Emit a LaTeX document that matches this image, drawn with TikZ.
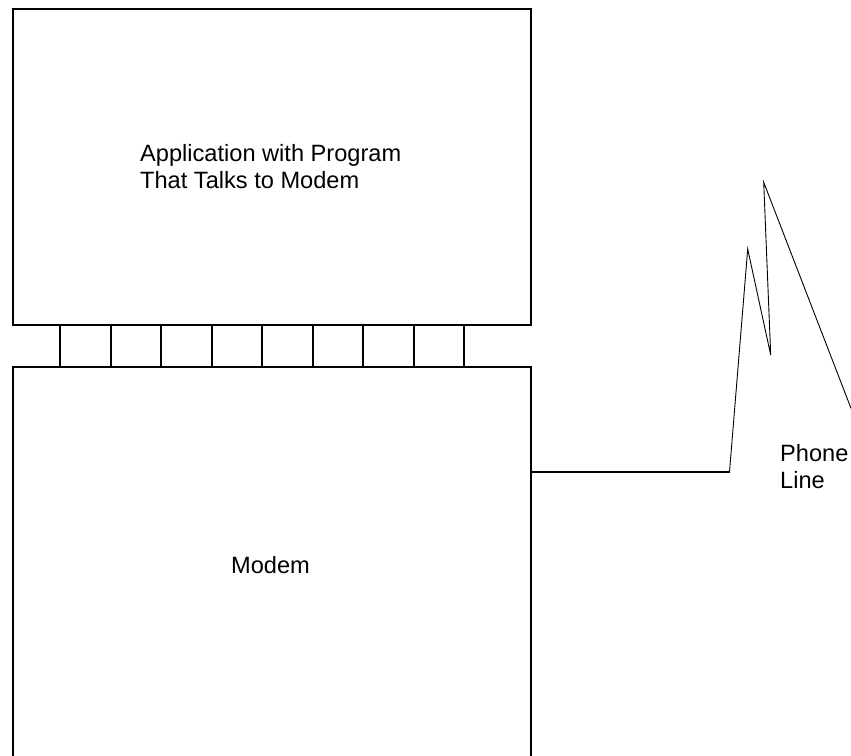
\documentclass[tikz,border=0pt]{standalone}
\usepackage{fontspec}
\setmainfont{Liberation Sans}
\begin{document}
\begin{tikzpicture}[x=1pt,y=-1pt,
  box/.style={draw=black, line width=2pt, rectangle, inner sep=0pt, fill=none},
  cell/.style={draw=black, line width=2pt, rectangle, inner sep=0pt, minimum width=50.46pt, minimum height=42pt},
  lbl/.style={inner sep=0pt, anchor=base west, font=\fontsize{23.6}{27}\selectfont},
  cable/.style={line width=1.6pt, line cap=round, line join=round},
  zig/.style={line width=0.9pt, line cap=round, line join=miter}]
\useasboundingbox (0,0) rectangle (851,755);
% boxes
\node[box, minimum width=518pt, minimum height=316pt] (app) at (271.8,166.5) {};
\node[box, minimum width=518pt, minimum height=393.5pt] (modem) at (271.7,563.25) {};
% connector cells
\foreach \i in {0,...,7}{
  \node[cell] (c\i) at ({60.3+50.46*(\i+0.5)},345.5) {};
}
% labels
\node[lbl] (app1) at (140,161) {Application with Program};
\node[lbl] (app2) at (140,188) {That Talks to Modem};
\node[lbl] (modemlbl) at (231,573) {Modem};
\node[lbl] (ph1) at (780,461) {Phone};
\node[lbl] (ph2) at (780,488) {Line};
% phone line
\coordinate (p0) at (modem.east |- 0,471.7);
\coordinate (p1) at (729.5,471.7);
\coordinate (p2) at (747.7,249);
\coordinate (p3) at (770.7,355);
\coordinate (p4) at (763.7,182.3);
\coordinate (p5) at (851,408.3);
\draw[cable] (p0) -- (p1);
\draw[zig] (p1) -- (p2) -- (p3) -- (p4) -- (p5);
\end{tikzpicture}
\end{document}
